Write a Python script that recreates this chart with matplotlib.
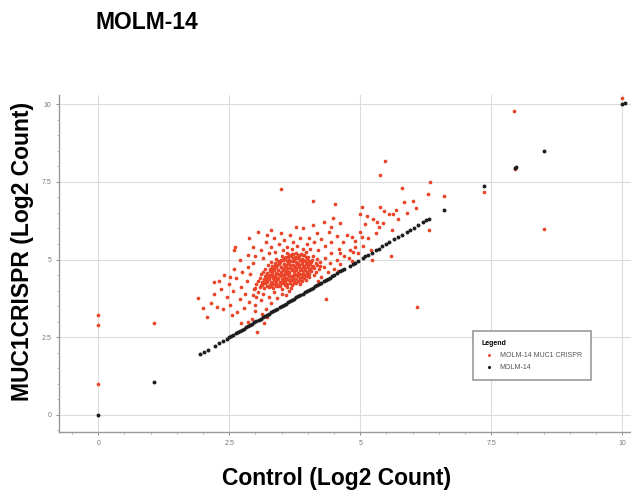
import matplotlib
matplotlib.use("Agg")
import matplotlib.pyplot as plt
import numpy as np

# MOLM-14 control plotted against itself (lies on the diagonal)
black_x = [0.0, 1.07, 1.95, 2.02, 2.1, 2.22, 2.3, 2.38, 2.45, 2.5, 2.54, 2.58, 2.62,
           2.66, 2.7, 2.74, 2.78, 2.82, 2.86, 2.9, 2.94, 2.98, 3.02, 3.06, 3.1, 3.14,
           3.18, 3.22, 3.26, 3.3, 3.34, 3.38, 3.42, 3.46, 3.5, 3.54, 3.58, 3.62, 3.66,
           3.7, 3.74, 3.78, 3.82, 3.86, 3.9, 3.94, 3.98, 4.02, 4.06, 4.1, 4.14, 4.18,
           4.22, 4.26, 4.3, 4.34, 4.38, 4.42, 4.46, 4.5, 4.56, 4.62, 4.66, 4.7, 4.8,
           4.86, 4.9, 4.95, 5.05, 5.1, 5.15, 5.22, 5.3, 5.35, 5.42, 5.5, 5.55, 5.65,
           5.72, 5.8, 5.9, 5.96, 6.02, 6.1, 6.2, 6.26, 6.32, 6.6, 7.37, 7.96, 7.98,
           8.5, 10.0, 10.05]
black_y = list(black_x)

# MUC1 CRISPR, dense core of the cloud
red_core = [
    (3.0, 4.08), (3.09, 4.13), (3.17, 4.07), (3.26, 4.12), (3.34, 4.09), (3.43, 4.14), (3.51, 4.06), (3.6, 4.11), (3.68, 4.1),
    (3.02, 4.21), (3.1, 4.18), (3.19, 4.23), (3.27, 4.19), (3.36, 4.22), (3.44, 4.17), (3.53, 4.24), (3.61, 4.2), (3.7, 4.18), (3.78, 4.23), (3.86, 4.2),
    (3.05, 4.31), (3.13, 4.28), (3.22, 4.33), (3.3, 4.29), (3.39, 4.32), (3.47, 4.27), (3.56, 4.31), (3.64, 4.34), (3.73, 4.28), (3.81, 4.32), (3.89, 4.3), (3.96, 4.33),
    (3.08, 4.41), (3.17, 4.38), (3.25, 4.43), (3.34, 4.39), (3.42, 4.42), (3.51, 4.37), (3.59, 4.41), (3.68, 4.44), (3.76, 4.38), (3.85, 4.42), (3.93, 4.4), (4.02, 4.43),
    (3.1, 4.52), (3.18, 4.48), (3.27, 4.51), (3.35, 4.47), (3.44, 4.53), (3.52, 4.49), (3.61, 4.52), (3.69, 4.47), (3.78, 4.51), (3.86, 4.54), (3.95, 4.49), (4.03, 4.52), (4.12, 4.5),
    (3.14, 4.61), (3.22, 4.58), (3.31, 4.62), (3.39, 4.57), (3.48, 4.61), (3.56, 4.64), (3.65, 4.59), (3.73, 4.62), (3.82, 4.58), (3.9, 4.63), (3.99, 4.6), (4.07, 4.62), (4.16, 4.59),
    (3.19, 4.71), (3.27, 4.68), (3.36, 4.72), (3.44, 4.67), (3.53, 4.71), (3.61, 4.74), (3.7, 4.69), (3.78, 4.72), (3.87, 4.68), (3.95, 4.73), (4.04, 4.7), (4.12, 4.72), (4.21, 4.69),
    (3.24, 4.81), (3.32, 4.78), (3.41, 4.82), (3.49, 4.77), (3.58, 4.81), (3.66, 4.84), (3.75, 4.79), (3.83, 4.82), (3.92, 4.78), (4.0, 4.83), (4.09, 4.8), (4.17, 4.82), (4.24, 4.79),
    (3.3, 4.91), (3.38, 4.88), (3.47, 4.92), (3.55, 4.87), (3.64, 4.91), (3.72, 4.94), (3.81, 4.89), (3.89, 4.92), (3.98, 4.88), (4.06, 4.93), (4.15, 4.9), (4.23, 4.92),
    (3.4, 5.01), (3.48, 4.98), (3.57, 5.02), (3.65, 4.97), (3.74, 5.01), (3.82, 5.04), (3.91, 4.99), (3.99, 5.02), (4.08, 4.98), (4.17, 5.03),
    (3.5, 5.11), (3.58, 5.08), (3.67, 5.12), (3.75, 5.07), (3.84, 5.11), (3.92, 5.14), (4.01, 5.09), (4.1, 5.12),
    (3.6, 5.21), (3.69, 5.18), (3.78, 5.22), (3.87, 5.19), (3.96, 5.23),
]

# second, offset layer that fills the middle of the core
red_core_fill = [
    (3.13, 4.17), (3.22, 4.15), (3.3, 4.16), (3.39, 4.16), (3.47, 4.15), (3.56, 4.17),
    (3.15, 4.24), (3.23, 4.27), (3.32, 4.25), (3.4, 4.26), (3.49, 4.23), (3.57, 4.27), (3.66, 4.25), (3.74, 4.26),
    (3.18, 4.34), (3.26, 4.37), (3.35, 4.35), (3.43, 4.36), (3.52, 4.33), (3.6, 4.37), (3.69, 4.35), (3.77, 4.36), (3.86, 4.35),
    (3.21, 4.44), (3.3, 4.47), (3.38, 4.45), (3.47, 4.46), (3.55, 4.43), (3.64, 4.47), (3.72, 4.45), (3.81, 4.46), (3.89, 4.45), (3.98, 4.47),
    (3.23, 4.54), (3.31, 4.57), (3.4, 4.55), (3.48, 4.56), (3.57, 4.53), (3.65, 4.57), (3.74, 4.55), (3.82, 4.56), (3.91, 4.55), (3.99, 4.57),
    (3.27, 4.64), (3.35, 4.67), (3.44, 4.65), (3.52, 4.66), (3.61, 4.63), (3.69, 4.67), (3.78, 4.65), (3.86, 4.66), (3.95, 4.65), (4.03, 4.67),
    (3.32, 4.74), (3.4, 4.77), (3.49, 4.75), (3.57, 4.76), (3.66, 4.73), (3.74, 4.77), (3.83, 4.75), (3.91, 4.76), (4.0, 4.75), (4.08, 4.77),
    (3.37, 4.84), (3.45, 4.87), (3.54, 4.85), (3.62, 4.86), (3.71, 4.83), (3.79, 4.87), (3.88, 4.85), (3.96, 4.86), (4.05, 4.85),
    (3.44, 4.94), (3.52, 4.97), (3.61, 4.95), (3.69, 4.96), (3.78, 4.93), (3.86, 4.97), (3.95, 4.95), (4.03, 4.96),
    (3.54, 5.04), (3.62, 5.07), (3.71, 5.05), (3.79, 5.06), (3.88, 5.03), (3.96, 5.07),
    (3.64, 5.14), (3.72, 5.17), (3.81, 5.15), (3.9, 5.16),
]

# looser points around the core
red_halo = [
    (1.91, 3.77), (2.0, 3.45), (2.07, 3.16), (2.2, 4.29), (2.27, 3.48), (2.2, 3.9), (2.35, 4.05), (2.38, 3.4),
    (2.45, 3.8), (2.5, 4.22), (2.52, 3.55), (2.58, 3.98), (2.62, 4.4), (2.65, 3.3), (2.7, 3.72), (2.73, 4.12),
    (2.78, 3.45), (2.8, 3.9), (2.84, 4.3), (2.88, 3.62), (2.9, 4.52), (2.93, 3.1), (2.95, 3.85), (2.97, 4.05),
    (2.99, 3.35), (2.72, 2.95), (2.85, 3.0), (3.03, 2.68), (3.17, 2.97), (3.0, 3.55), (3.02, 3.78), (3.04, 3.95),
    (2.6, 4.7), (2.75, 4.6), (2.4, 4.5), (2.3, 4.3), (2.55, 3.2), (2.15, 3.6), (2.85, 4.75), (2.95, 4.9),
    (3.1, 3.7), (3.15, 3.9), (3.2, 3.4), (3.25, 3.8), (3.3, 3.6), (3.35, 3.95), (3.42, 3.75), (3.5, 3.9),
    (3.58, 3.85), (3.65, 3.98), (3.12, 3.25), (3.22, 3.15), (2.52, 4.45),
    (2.7, 5.0), (2.85, 5.15), (2.95, 5.4), (3.0, 5.1), (3.1, 5.3), (3.15, 5.05), (3.2, 5.55), (3.25, 5.2),
    (3.3, 5.4), (3.35, 5.7), (3.38, 5.25), (3.45, 5.5), (3.48, 5.85), (3.52, 5.32), (3.55, 5.62), (3.6, 5.4),
    (3.66, 5.8), (3.7, 5.35), (3.72, 5.55), (3.78, 6.05), (3.8, 5.45), (3.85, 5.7), (3.9, 5.35), (3.9, 6.0),
    (3.98, 5.5), (4.02, 5.7), (4.05, 5.35), (4.1, 6.1), (4.12, 5.55), (4.18, 5.85), (4.2, 5.3), (4.25, 5.65),
    (4.3, 6.2), (4.33, 5.45), (4.4, 5.9), (4.45, 5.55), (4.55, 5.75), (2.61, 5.39), (2.87, 5.7),
    (3.22, 5.8), (3.05, 5.9), (3.3, 5.95), (2.6, 5.3),
    (4.25, 4.45), (4.3, 4.75), (4.32, 5.05), (4.38, 4.6), (4.42, 4.9), (4.45, 5.2), (4.5, 4.7), (4.55, 5.0),
    (4.6, 5.35), (4.62, 4.85), (4.68, 5.55), (4.7, 5.1), (4.75, 5.8), (4.8, 5.3), (4.85, 4.95), (4.9, 5.6),
    (4.95, 5.2), (5.0, 5.9), (5.05, 5.45), (5.1, 6.15), (5.15, 5.7), (5.2, 5.3), (5.25, 6.3), (5.3, 5.85),
    (4.35, 4.35), (4.2, 4.3), (4.58, 4.62), (4.78, 5.05), (5.35, 6.05), (5.45, 6.55), (5.55, 6.45), (5.6, 5.95),
    (4.45, 6.05), (4.49, 6.35), (4.62, 6.19), (4.85, 5.74), (5.04, 5.74), (5.0, 6.45), (5.13, 6.39), (5.32, 6.22),
    (5.44, 6.19), (5.62, 6.45), (5.72, 6.3), (5.9, 6.5), (4.62, 5.22), (4.9, 5.4), (5.04, 6.68),
]

# isolated points
red_outliers = [
    (0.0, 3.22), (0.0, 2.9), (0.0, 1.0), (1.07, 2.97), (3.49, 7.26), (4.1, 6.87), (4.52, 6.8),
    (5.38, 6.68), (5.69, 6.58), (6.07, 6.65), (6.0, 6.87), (5.84, 6.84), (5.8, 7.3), (6.3, 7.1),
    (6.6, 7.06), (6.34, 7.48), (5.38, 7.71), (5.48, 8.16), (7.37, 7.16), (7.94, 9.77), (8.5, 5.97),
    (6.08, 3.48), (4.35, 3.74), (6.32, 5.94), (5.59, 5.1), (5.23, 5.0), (4.87, 5.23), (10.0, 10.2),
    (7.96, 7.9),
]

ticks = [0, 2.5, 5, 7.5, 10]
tick_labels = ["0", "2.5", "5", "7.5", "10"]

red_pts = np.array(red_core + red_core_fill + red_halo + red_outliers)

plt.rcParams['font.family'] = ['Liberation Sans', 'DejaVu Sans']

fig = plt.figure(figsize=(6.31, 4.94), dpi=100)
ax = fig.add_axes([0.0935, 0.1255, 0.9065, 0.6825])

ax.scatter(red_pts[:, 0], red_pts[:, 1], s=7, color='#eb4529', linewidths=0,
           label='MOLM-14 MUC1 CRISPR', zorder=3)
ax.scatter(black_x, black_y, s=8, color='#1e1e1e', linewidths=0,
           label='MOLM-14', zorder=4)

ax.set_xlim(-0.75, 10.17)
ax.set_ylim(-0.55, 10.3)
ax.set_xticks(ticks)
ax.set_xticklabels(tick_labels)
ax.set_yticks(ticks)
ax.set_yticklabels(tick_labels)
ax.set_xticks(np.arange(-0.5, 10.2, 0.5), minor=True)
ax.set_yticks(np.arange(-0.5, 10.3, 0.5), minor=True)
ax.tick_params(which='major', labelsize=5, colors='#777777', length=2, width=0.6)
ax.tick_params(which='minor', length=1.5, width=0.5, colors='#999999')
ax.grid(True, which='major', color='#dcdcdc', linewidth=0.8)
ax.set_axisbelow(True)

for side in ['top', 'right']:
    ax.spines[side].set_visible(False)
for side in ['left', 'bottom']:
    ax.spines[side].set_color('#999999')
    ax.spines[side].set_linewidth(1.0)

ax.set_xlabel('Control (Log2 Count)', fontsize=16.5, fontweight='bold')
ax.xaxis.set_label_coords(0.486, -0.105)
ax.set_ylabel('MUC1CRISPR (Log2 Count)', fontsize=16.5, fontweight='bold')
ax.yaxis.set_label_coords(-0.044, 0.535)

fig.text(0.152, 0.955, 'MOLM-14', fontsize=16.5, fontweight='bold', va='center')

leg = ax.legend(loc='lower left', bbox_to_anchor=(0.717, 0.145), fontsize=5,
                title='Legend', title_fontproperties={'size': 5, 'weight': 'bold'},
                fancybox=False, edgecolor='#999999', borderpad=1.3, labelspacing=0.7,
                handletextpad=0.6, markerscale=0.8, alignment='left', framealpha=1)
leg.get_frame().set_linewidth(1.2)
for t in leg.get_texts():
    t.set_color('#555555')

plt.savefig('out.png', dpi=100)
